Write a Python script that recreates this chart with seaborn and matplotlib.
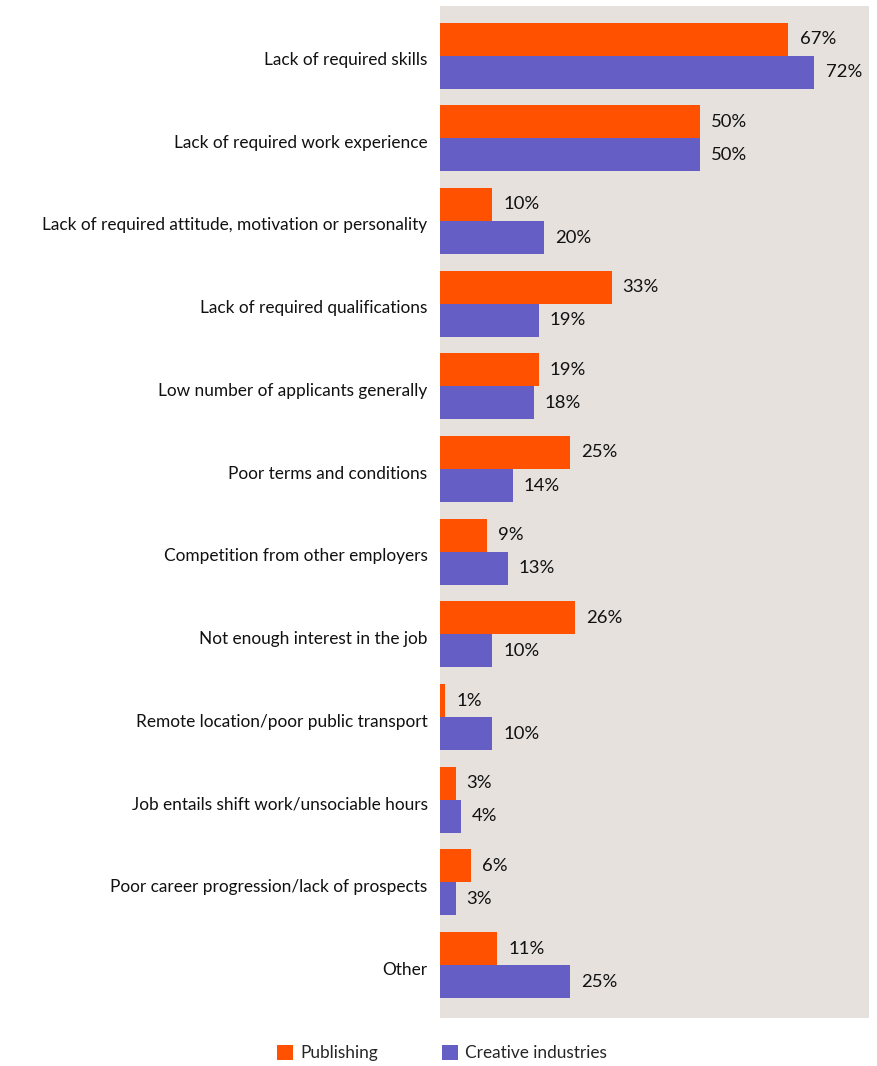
import matplotlib
matplotlib.use("Agg")
import matplotlib.pyplot as plt
import matplotlib.transforms as mtransforms
from matplotlib.patches import Patch
import seaborn as sns
import pandas as pd

categories = [
    "Lack of required skills",
    "Lack of required work experience",
    "Lack of required attitude, motivation or personality",
    "Lack of required qualifications",
    "Low number of applicants generally",
    "Poor terms and conditions",
    "Competition from other employers",
    "Not enough interest in the job",
    "Remote location/poor public transport",
    "Job entails shift work/unsociable hours",
    "Poor career progression/lack of prospects",
    "Other",
]
publishing = [67, 50, 10, 33, 19, 25, 9, 26, 1, 3, 6, 11]
creative = [72, 50, 20, 19, 18, 14, 13, 10, 10, 4, 3, 25]
series_names = ["Publishing", "Creative industries"]
colors = ["#FF5100", "#655EC4"]

df = pd.DataFrame({
    "reason": categories * 2,
    "series": [series_names[0]] * len(categories) + [series_names[1]] * len(categories),
    "value": publishing + creative,
})

sns.set_theme(style="white")
plt.rcParams["font.family"] = ["Lato", "DejaVu Sans"]

fig = plt.figure(figsize=(8.77, 10.66), dpi=100)
ax = fig.add_axes([440 / 877, 1 - 1018 / 1066, 429 / 877, 1012 / 1066])
ax.set_facecolor("#E6E1DD")

sns.barplot(data=df, y="reason", x="value", hue="series", order=categories,
            hue_order=series_names, palette=colors, orient="h", width=0.8,
            saturation=1, legend=False, linewidth=0, edgecolor="none", ax=ax)

for container in ax.containers:
    ax.bar_label(container, labels=[f"{v:.0f}%" for v in container.datavalues],
                 padding=8, fontsize=13.3, color="#111111")

ax.set_xlim(0, 82.5)
ax.set_ylim(11.64, -0.6)
ax.set_xlabel("")
ax.set_ylabel("")
ax.set_xticks([])
ax.tick_params(axis="y", length=0, pad=9, labelsize=12.4, labelcolor="#111111")
shift = mtransforms.ScaledTranslation(0, -3 / 100, fig.dpi_scale_trans)
for lab in ax.get_yticklabels():
    lab.set_transform(lab.get_transform() + shift)
for s in ax.spines.values():
    s.set_visible(False)

handles = [Patch(facecolor=c, edgecolor="none") for c in colors]
fig.legend(handles, series_names, loc="center", bbox_to_anchor=(442 / 877, 1 - 1053 / 1066),
           ncol=2, frameon=False, fontsize=12.4, handlelength=0.95, handleheight=0.95,
           handletextpad=0.4, columnspacing=3.7)

fig.savefig("out.png", dpi=100, facecolor="white")
